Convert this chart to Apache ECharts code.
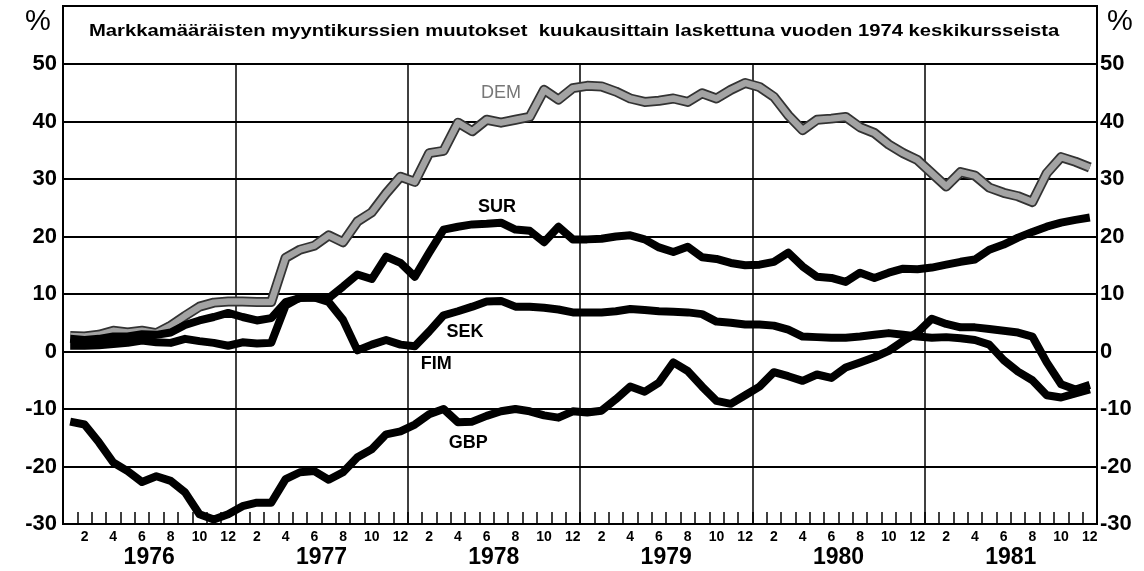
<!DOCTYPE html>
<html><head><meta charset="utf-8">
<script src="https://cdn.jsdelivr.net/npm/echarts@6/dist/echarts.min.js"></script>
<style>html,body{margin:0;padding:0;background:#fff}#c{width:1144px;height:571px}</style>
</head><body><div id="c"></div>
<script>
const years = ['1976','1977','1978','1979','1980','1981'];
const monthLabels = ['','2','','4','','6','','8','','10','','12'];
const titleText = 'Markkamääräisten myyntikurssien muutokset  kuukausittain laskettuna vuoden 1974 keskikursseista';

const dem = [2.7,2.6,2.9,3.6,3.3,3.6,3.2,4.5,6.2,7.8,8.5,8.7,
  8.7,8.6,8.6,16.3,17.7,18.4,20.2,19.0,22.6,24.2,27.5,30.4,
  29.5,34.5,34.9,39.8,38.3,40.3,39.8,40.3,40.8,45.5,43.8,45.8,
  46.2,46.1,45.2,44.0,43.4,43.6,44.0,43.4,44.9,44.0,45.5,46.7,
  46.0,44.3,41.1,38.5,40.3,40.5,40.8,39.0,38.0,36.0,34.5,33.3,
  31.0,28.7,31.2,30.6,28.5,27.6,27.0,26.0,31.0,33.8,33.0,32.0];
const sur = [2.2,2.0,2.2,2.6,2.6,3.0,2.9,3.3,4.6,5.4,6.0,6.7,
  6.0,5.4,5.8,8.6,9.3,9.4,9.3,11.3,13.4,12.6,16.5,15.4,
  13.0,17.2,21.2,21.7,22.1,22.2,22.4,21.2,21.0,19.0,21.7,19.5,
  19.5,19.6,20.0,20.2,19.5,18.1,17.3,18.2,16.4,16.1,15.4,15.0,
  15.1,15.6,17.2,14.8,13.0,12.8,12.1,13.7,12.8,13.7,14.4,14.3,
  14.6,15.1,15.6,16.0,17.7,18.6,19.8,20.8,21.7,22.4,22.9,23.3];
const sek = [1.0,1.0,1.1,1.3,1.5,1.9,1.6,1.5,2.2,1.8,1.5,1.0,
  1.6,1.4,1.5,8.0,9.4,9.4,8.6,5.5,0.2,1.2,2.0,1.2,
  0.9,3.5,6.3,7.0,7.8,8.7,8.8,7.8,7.8,7.6,7.3,6.8,
  6.8,6.8,7.0,7.4,7.2,7.0,6.9,6.8,6.5,5.2,5.0,4.7,
  4.7,4.5,3.8,2.6,2.5,2.4,2.4,2.6,2.9,3.2,2.9,2.6,
  2.4,2.5,2.3,2.0,1.2,-1.5,-3.5,-5.0,-7.6,-8.0,-7.3,-6.6];
const gbp = [-12.2,-12.7,-15.8,-19.3,-20.8,-22.7,-21.7,-22.5,-24.5,-28.3,-29.2,-28.3,
  -26.9,-26.3,-26.3,-22.2,-21.0,-20.8,-22.3,-21.0,-18.4,-17.0,-14.4,-13.9,
  -12.7,-10.9,-10.0,-12.3,-12.2,-11.2,-10.4,-10.0,-10.4,-11.1,-11.5,-10.4,
  -10.6,-10.3,-8.3,-6.1,-7.0,-5.4,-1.9,-3.4,-6.1,-8.6,-9.1,-7.6,
  -6.1,-3.6,-4.3,-5.1,-4.0,-4.6,-2.8,-1.9,-1.0,0.1,1.8,3.3,
  5.7,4.8,4.2,4.2,3.9,3.6,3.3,2.6,-1.9,-5.7,-6.6,-5.8];

const categories = [];
years.forEach(y => monthLabels.forEach((m, i) => categories.push(y + '-' + (i + 1))));

const FONT = '"Liberation Sans", Arial, Helvetica, sans-serif';
const chart = echarts.init(document.getElementById('c'), null, {renderer: 'canvas'});

function lbl(text, idx, val, dx, opts) {
  return {
    coord: [idx, val], symbol: 'circle', symbolSize: 1,
    itemStyle: {color: 'rgba(0,0,0,0)'},
    label: Object.assign({show: true, position: 'inside', formatter: text, offset: [dx, 0],
      fontFamily: FONT, fontSize: 18, fontWeight: 'bold', color: '#000'}, opts || {})
  };
}

const lineBase = {type: 'line', symbol: 'none', smooth: false, animation: false,
  xAxisIndex: 0, yAxisIndex: 0};

chart.setOption({
  backgroundColor: '#fff',
  animation: false,
  grid: {left: 63, right: 47, top: 64, bottom: 47, show: true, borderColor: '#000', borderWidth: 2, containLabel: false},
  xAxis: [{
    type: 'category', data: categories, position: 'bottom', boundaryGap: true,
    axisLine: {show: true, onZero: false, lineStyle: {color: '#000', width: 2}},
    axisTick: {show: true, inside: true, length: 12, interval: 0, lineStyle: {color: '#000', width: 1.5}},
    axisLabel: {interval: 0, margin: 6, fontFamily: FONT, fontSize: 14, fontWeight: 'bold', color: '#000',
      formatter: (v, i) => monthLabels[i % 12]},
    splitLine: {show: false}
  }, {
    type: 'category', data: years, position: 'bottom', offset: 20, boundaryGap: true,
    axisLine: {show: false, onZero: false}, axisTick: {show: false},
    axisLabel: {margin: 2, fontFamily: FONT, fontSize: 23, fontWeight: 'bold', color: '#000'},
    splitLine: {show: true, lineStyle: {color: '#000', width: 1.5}}
  }],
  yAxis: [{
    type: 'value', min: -30, max: 50, interval: 10, position: 'left',
    axisLine: {show: false}, axisTick: {show: false},
    axisLabel: {margin: 6, fontFamily: FONT, fontSize: 22, fontWeight: 'bold', color: '#000'},
    splitLine: {show: true, lineStyle: {color: '#000', width: 2}}
  }, {
    type: 'value', min: -30, max: 50, interval: 10, position: 'right',
    axisLine: {show: false}, axisTick: {show: false},
    axisLabel: {margin: 3, fontFamily: FONT, fontSize: 22, fontWeight: 'bold', color: '#000'},
    splitLine: {show: false}
  }],
  graphic: [
    {type: 'rect', shape: {x: 63, y: 6, width: 1034, height: 58}, style: {fill: 'none', stroke: '#000', lineWidth: 2}},
    {type: 'text', x: 89, y: 31, scaleX: 1.19, style: {text: titleText, font: 'bold 17px ' + FONT, fill: '#000', verticalAlign: 'middle'}},
    {type: 'text', x: 38, y: 22, style: {text: '%', font: '29px ' + FONT, fill: '#000', align: 'center', verticalAlign: 'middle'}},
    {type: 'text', x: 1120, y: 22, style: {text: '%', font: '29px ' + FONT, fill: '#000', align: 'center', verticalAlign: 'middle'}}
  ],
  series: [
    Object.assign({}, lineBase, {name: 'DEM_edge', data: dem, lineStyle: {color: '#333', width: 10, join: 'round'}, z: 2}),
    Object.assign({}, lineBase, {name: 'DEM', data: dem, lineStyle: {color: '#a3a3a3', width: 6.5, join: 'round'}, z: 3,
      markPoint: {silent: true, data: [lbl('DEM', 30, 45.0, 0, {fontWeight: 'normal', color: '#777'})]}}),
    Object.assign({}, lineBase, {name: 'SUR', data: sur, lineStyle: {color: '#000', width: 8, join: 'round'}, z: 4,
      markPoint: {silent: true, data: [lbl('SUR', 30, 25.2, -4)]}}),
    Object.assign({}, lineBase, {name: 'SEK', data: sek, lineStyle: {color: '#000', width: 8, join: 'round'}, z: 4,
      markPoint: {silent: true, data: [lbl('SEK', 27, 3.3, 7), lbl('FIM', 25, -2.2, 7)]}}),
    Object.assign({}, lineBase, {name: 'GBP', data: gbp, lineStyle: {color: '#000', width: 8, join: 'round'}, z: 4,
      markPoint: {silent: true, data: [lbl('GBP', 28, -16.0, -4)]}})
  ]
});
</script></body></html>
